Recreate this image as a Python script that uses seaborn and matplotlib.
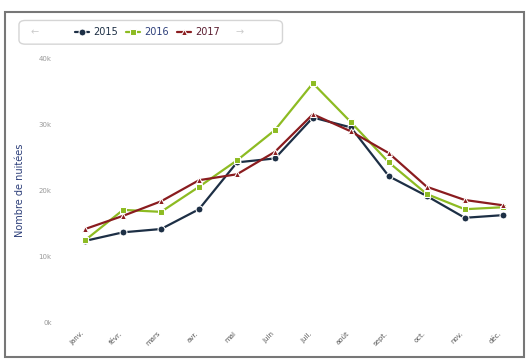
import matplotlib
matplotlib.use("Agg")
import matplotlib.pyplot as plt
import seaborn as sns
import pandas as pd
from matplotlib.patches import Rectangle, FancyBboxPatch

# monthly values (thousands of nights)
mois = ["janv.", "févr.", "mars", "avr.", "mai", "juin",
        "juil.", "août", "sept.", "oct.", "nov.", "déc."]
v2015 = [12.3, 13.6, 14.1, 17.1, 24.2, 24.8, 31.0, 29.5, 22.1, 19.1, 15.8, 16.2]
v2016 = [12.4, 17.0, 16.7, 20.5, 24.5, 29.1, 36.2, 30.3, 24.2, 19.4, 17.1, 17.4]
v2017 = [14.1, 16.1, 18.3, 21.5, 22.4, 25.8, 31.5, 28.9, 25.6, 20.5, 18.5, 17.7]
yticks = [0, 10, 20, 30, 40]
ylabels = ["0k", "10k", "20k", "30k", "40k"]

df = pd.DataFrame({
    "mois": list(range(12)) * 3,
    "val": v2015 + v2016 + v2017,
    "annee": ["2015"] * 12 + ["2016"] * 12 + ["2017"] * 12,
})

sns.set_style("white")
plt.rcParams["font.family"] = ["DejaVu Sans"]

fig = plt.figure(figsize=(5.27, 3.59), dpi=100)
ax = fig.add_axes([0.114, 0.103, 0.863, 0.735])

pal = {"2015": "#1d2f45", "2016": "#8dbb22", "2017": "#8a1c1f"}
sns.lineplot(data=df, x="mois", y="val", hue="annee", style="annee",
             palette=pal, markers={"2015": "o", "2016": "s", "2017": "^"},
             dashes=False, markersize=5, linewidth=1.6, ax=ax, legend=True)

ax.set_xlim(-0.66, 11.32)
ax.set_ylim(0, 40)
ax.set_yticks(yticks)
ax.set_yticklabels(ylabels, fontsize=5, color="#999999")
ax.set_xticks(range(12))
ax.set_xticklabels(mois, rotation=45, fontsize=5, color="#555555", ha="right")
ax.tick_params(length=0, pad=6)
ax.set_xlabel("")
ax.set_ylabel("Nombre de nuitées", fontsize=7, color="#2d3f7a", labelpad=10)
for s in ax.spines.values():
    s.set_visible(False)

# legend box with paging arrows
fig.patches.append(FancyBboxPatch((0.036, 0.877), 0.50, 0.066,
                                  boxstyle="round,pad=0,rounding_size=0.012",
                                  transform=fig.transFigure, facecolor="white",
                                  edgecolor="#d5d5d5", linewidth=1))
handles, labels = ax.get_legend_handles_labels()
ax.get_legend().remove()
leg = fig.legend(handles, labels, loc="center left", ncol=3,
                 bbox_to_anchor=(0.125, 0.91), fontsize=7, frameon=False,
                 handlelength=1.5, handletextpad=0.4, columnspacing=0.8)
for t, c in zip(leg.get_texts(), ["#1d2f45", "#2d3f7a", "#5a1c2f"]):
    t.set_color(c)
fig.text(0.057, 0.91, "←", fontsize=7, color="#cccccc", va="center")
fig.text(0.447, 0.91, "→", fontsize=7, color="#cccccc", va="center")

# scanned page border
fig.patches.append(Rectangle((0.01, 0.005), 0.985, 0.962, transform=fig.transFigure,
                             fill=False, edgecolor="#777777", linewidth=1.5))

fig.savefig("out.png", dpi=100)
